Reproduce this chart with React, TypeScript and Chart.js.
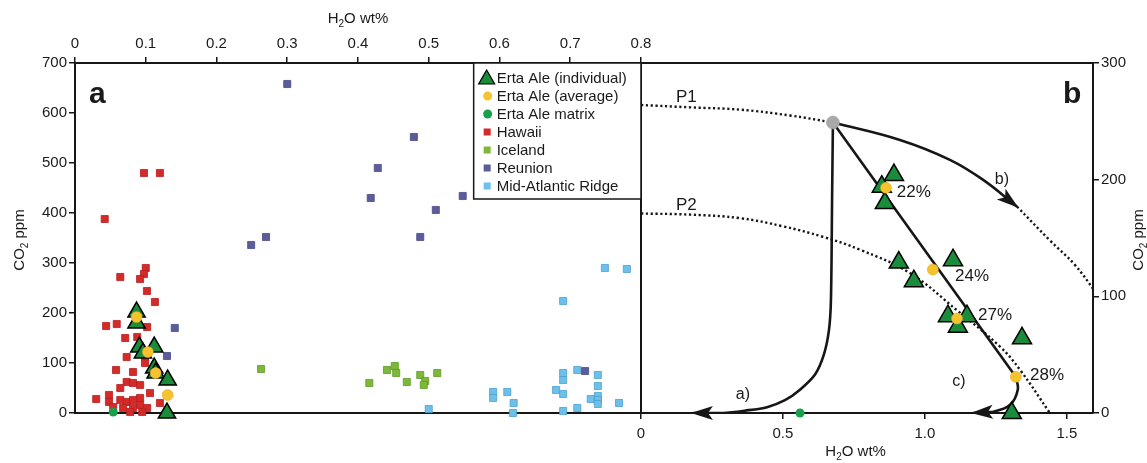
import React, { useEffect, useRef } from 'react';
import { Chart, registerables } from 'chart.js';
Chart.register(...registerables);

const FONT = '"Liberation Sans", Arial, Helvetica, sans-serif';

// ---------- Panel a (top H2O axis 0-0.8, left CO2 axis 0-700) ----------
const topTicks = [0, 0.1, 0.2, 0.3, 0.4, 0.5, 0.6, 0.7, 0.8];
const bottomTicks = [0, 0.5, 1.0, 1.5];

const hawaiiH2O = [0.0975, 0.12, 0.042, 0.064, 0.1, 0.0975, 0.092, 0.1017, 0.113, 0.044, 0.059, 0.102, 0.071, 0.088, 0.073, 0.099, 0.099, 0.058, 0.082, 0.073, 0.082, 0.092, 0.064, 0.106, 0.03, 0.048, 0.048, 0.064, 0.073, 0.082, 0.092, 0.054, 0.068, 0.082, 0.092, 0.102, 0.12, 0.078, 0.095];
const hawaiiCO2 = [480, 480, 388, 272, 290, 278, 268, 244, 222, 174, 178, 172, 150, 152, 112, 112, 100, 86, 82, 62, 60, 56, 50, 40, 28, 36, 22, 26, 22, 26, 30, 12, 10, 10, 16, 10, 20, 2, 2];

const icelandH2O = [0.263, 0.416, 0.441, 0.452, 0.454, 0.469, 0.488, 0.495, 0.493, 0.512];
const icelandCO2 = [88, 60, 86, 94, 80, 62, 76, 64, 56, 80];

const reunionH2O = [0.3, 0.479, 0.428, 0.418, 0.51, 0.548, 0.488, 0.27, 0.249, 0.141, 0.13, 0.721];
const reunionCO2 = [658, 552, 490, 430, 406, 434, 352, 352, 336, 170, 114, 84];

const marH2O = [0.749, 0.78, 0.69, 0.69, 0.69, 0.71, 0.739, 0.739, 0.68, 0.69, 0.739, 0.729, 0.739, 0.739, 0.769, 0.71, 0.69, 0.591, 0.591, 0.611, 0.62, 0.619, 0.5];
const marCO2 = [290, 288, 224, 80, 66, 86, 76, 54, 46, 38, 34, 28, 26, 18, 20, 10, 4, 42, 30, 42, 20, 0, 8];

const ertaIndA_H2O = [0.087, 0.087, 0.091, 0.112, 0.096, 0.112, 0.114, 0.131, 0.13];
const ertaIndA_CO2 = [202, 180, 132, 132, 120, 90, 80, 66, 0];
const ertaAvgA_H2O = [0.087, 0.103, 0.114, 0.131];
const ertaAvgA_CO2 = [192, 122, 80, 36];
const ertaMatA_H2O = [0.054];
const ertaMatA_CO2 = [2];

// ---------- Panel b (bottom H2O axis 0-1.5, right CO2 axis 0-300) ----------
const ertaIndB_H2O = [0.891, 0.848, 0.859, 0.908, 0.961, 1.099, 1.081, 1.148, 1.116, 1.342, 1.306];
const ertaIndB_CO2 = [204, 194, 180, 129, 113, 131, 83, 83, 74, 64, 0];
const ertaAvgB_H2O = [0.863, 1.028, 1.113, 1.32];
const ertaAvgB_CO2 = [193, 123, 81, 31];
const ertaMatB_H2O = [0.56];
const ertaMatB_CO2 = [0];
const startH2O = [0.676];
const startCO2 = [249];

const p1LeftH2O = [0, 0.173, 0.349, 0.525, 0.676];
const p1LeftCO2 = [264, 262, 260, 255, 249];
const p1RightH2O = [1.324, 1.44, 1.528, 1.6];
const p1RightCO2 = [177, 148, 127, 104];
const p2H2O = [0, 0.176, 0.349, 0.5, 0.641, 0.771, 0.947, 1.113, 1.264, 1.335, 1.44];
const p2CO2 = [171, 170, 167, 160, 151, 140, 120, 88, 57, 37, 0];

const pathA_H2O = [0.676, 0.673, 0.669, 0.662, 0.644, 0.613, 0.56, 0.507, 0.444, 0.366, 0.289, 0.183];
const pathA_CO2 = [249, 183, 97, 71, 50, 33, 20, 11, 5, 2, 0, 0];
const pathB_H2O = [0.676, 0.912, 1.088, 1.204, 1.324];
const pathB_CO2 = [249, 234, 217, 200, 177];
const pathCLineH2O = [0.676, 1.32];
const pathCLineCO2 = [249, 31];
const pathCCurveH2O = [1.32, 1.327, 1.3, 1.239, 1.169];
const pathCCurveCO2 = [31, 20, 7, 1, 0];

const noteText = ['P1', 'P2', 'a)', 'b)', 'c)', '22%', '24%', '27%', '28%'];
const noteH2O = [0.123, 0.123, 0.359, 1.271, 1.12, 0.901, 1.106, 1.187, 1.37];
const noteCO2 = [271, 178, 16, 200, 27, 189, 117, 84, 32];

const legendLabels = ['Erta Ale (individual)', 'Erta Ale (average)', 'Erta Ale matrix', 'Hawaii', 'Iceland', 'Reunion', 'Mid-Atlantic Ridge'];

const C = {
  tri: '#1b8c3c',
  avg: '#f6c22e',
  mat: '#19a04c',
  hawaii: '#d42a2a',
  iceland: '#7db83a',
  reunion: '#5c5c9c',
  mar: '#6cc0ea',
  gray: '#a9a9a9',
  ink: '#161616',
};

const XB_MAX = 1.592;
const XB_MIN = -1.9935;
const XA_MAX = 1.4389;

const pts = (xs: number[], ys: number[]) => xs.map((x, i) => ({ x, y: ys[i] }));

function subText(ctx: CanvasRenderingContext2D, x: number, y: number, pre: string, sub: string, post: string, size: number) {
  const big = `${size}px ${FONT}`;
  const small = `${Math.round(size * 0.68)}px ${FONT}`;
  ctx.font = big;
  const w1 = ctx.measureText(pre).width;
  const w3 = ctx.measureText(post).width;
  ctx.font = small;
  const w2 = ctx.measureText(sub).width;
  const sx = x - (w1 + w2 + w3) / 2;
  ctx.textAlign = 'left';
  ctx.textBaseline = 'middle';
  ctx.font = big;
  ctx.fillText(pre, sx, y);
  ctx.font = small;
  ctx.fillText(sub, sx + w1, y + size * 0.32);
  ctx.font = big;
  ctx.fillText(post, sx + w1 + w2, y);
}

const overlay = {
  id: 'overlay',
  afterDatasetsDraw(chart: any) {
    const ctx: CanvasRenderingContext2D = chart.ctx;
    const { top, bottom } = chart.chartArea;
    const xB = chart.scales.xB;
    const yB = chart.scales.yB;
    ctx.save();
    const xd = xB.getPixelForValue(0);
    ctx.strokeStyle = C.ink;
    ctx.lineWidth = 2;
    ctx.beginPath();
    ctx.moveTo(xd, top);
    ctx.lineTo(xd, bottom);
    ctx.stroke();
    chart.data.datasets.forEach((ds: any, i: number) => {
      if (!ds.arrow) return;
      const d = chart.getDatasetMeta(i).data;
      const a = d[d.length - 1];
      const b = d[d.length - 2];
      const ang = Math.atan2(a.y - b.y, a.x - b.x);
      ctx.save();
      ctx.translate(a.x, a.y);
      ctx.rotate(ang);
      ctx.fillStyle = C.ink;
      ctx.beginPath();
      ctx.moveTo(2, 0);
      ctx.lineTo(-20, -7);
      ctx.lineTo(-15, 0);
      ctx.lineTo(-20, 7);
      ctx.closePath();
      ctx.fill();
      ctx.restore();
    });
    ctx.fillStyle = '#1a1a1a';
    ctx.textBaseline = 'middle';
    noteText.forEach((t, i) => {
      const isPath = t.length === 2 && t.endsWith(')');
      ctx.font = `${isPath ? 16 : 17}px ${FONT}`;
      ctx.textAlign = isPath ? 'center' : 'left';
      ctx.fillText(t, xB.getPixelForValue(noteH2O[i]), yB.getPixelForValue(noteCO2[i]));
    });
    ctx.restore();
  },
  afterDraw(chart: any) {
    const ctx: CanvasRenderingContext2D = chart.ctx;
    const ca = chart.chartArea;
    const xA = chart.scales.xA;
    const yA = chart.scales.yA;
    const xB = chart.scales.xB;
    ctx.save();
    ctx.fillStyle = '#1a1a1a';
    const aMid = (xA.getPixelForValue(0) + xA.getPixelForValue(0.8)) / 2;
    subText(ctx, aMid, 19, 'H', '2', 'O wt%', 15);
    subText(ctx, xB.getPixelForValue(0.756), 452, 'H', '2', 'O wt%', 15);
    const midY = (ca.top + ca.bottom) / 2 + 2;
    ctx.save();
    ctx.translate(20, midY);
    ctx.rotate(-Math.PI / 2);
    subText(ctx, 0, 0, 'CO', '2', ' ppm', 15);
    ctx.restore();
    ctx.save();
    ctx.translate(1139, midY);
    ctx.rotate(-Math.PI / 2);
    subText(ctx, 0, 0, 'CO', '2', ' ppm', 15);
    ctx.restore();
    ctx.font = `bold 30px ${FONT}`;
    ctx.textAlign = 'left';
    ctx.textBaseline = 'alphabetic';
    ctx.fillText('a', ca.left + 14, ca.top + 40);
    ctx.fillText('b', ca.right - 30, ca.top + 40);
    const lx = xA.getPixelForValue(0.5635);
    const rx = xA.getPixelForValue(0.8);
    const by = yA.getPixelForValue(428);
    ctx.fillStyle = '#fff';
    ctx.fillRect(lx, ca.top, rx - lx, by - ca.top);
    ctx.strokeStyle = C.ink;
    ctx.lineWidth = 1.5;
    ctx.strokeRect(lx, ca.top, rx - lx, by - ca.top);
    const sx = lx + 13;
    legendLabels.forEach((t, i) => {
      const y = ca.top + 15 + i * 18;
      if (i === 0) {
        ctx.fillStyle = C.tri;
        ctx.strokeStyle = '#000';
        ctx.lineWidth = 1.2;
        ctx.beginPath();
        ctx.moveTo(sx, y - 8);
        ctx.lineTo(sx + 8, y + 6);
        ctx.lineTo(sx - 8, y + 6);
        ctx.closePath();
        ctx.fill();
        ctx.stroke();
      } else if (i < 3) {
        ctx.fillStyle = i === 1 ? C.avg : C.mat;
        ctx.beginPath();
        ctx.arc(sx + 1, y, 4.5, 0, Math.PI * 2);
        ctx.fill();
      } else {
        ctx.fillStyle = [C.hawaii, C.iceland, C.reunion, C.mar][i - 3];
        ctx.fillRect(sx - 3, y - 3.5, 7, 7);
      }
      ctx.fillStyle = '#1a1a1a';
      ctx.font = `15px ${FONT}`;
      ctx.textAlign = 'left';
      ctx.textBaseline = 'middle';
      ctx.fillText(t, sx + 10, y + 1);
    });
    ctx.restore();
  },
};

const sq = (label: string, xs: number[], ys: number[], color: string, edge: string) => ({
  label, data: pts(xs, ys), xAxisID: 'xA', yAxisID: 'yA', clip: false,
  pointStyle: 'rect', pointRadius: 5, backgroundColor: color, borderColor: edge, pointBorderWidth: 0.8,
});

const line = (label: string, xs: number[], ys: number[], dotted: boolean, tension: number, arrow = false) => ({
  label, data: pts(xs, ys), xAxisID: 'xB', yAxisID: 'yB', showLine: true, pointRadius: 0,
  borderColor: C.ink, borderWidth: dotted ? 2.4 : 2.6, borderDash: dotted ? [2.2, 2.6] : [],
  tension, fill: false, arrow,
});

export default function App() {
  const ref = useRef<HTMLCanvasElement>(null);
  useEffect(() => {
    const axisFont = { family: FONT, size: 15 };
    const grid = { drawOnChartArea: false, drawTicks: true, tickLength: 6, color: C.ink, lineWidth: 1.5 };
    const border = { display: true, color: C.ink, width: 2 };
    const chart = new Chart(ref.current!, {
      type: 'scatter',
      data: {
        datasets: [
          { label: 'avgA', data: pts(ertaAvgA_H2O, ertaAvgA_CO2), xAxisID: 'xA', yAxisID: 'yA', clip: false, pointRadius: 5.5, backgroundColor: C.avg, borderColor: '#e0a81c', pointBorderWidth: 0.5 },
          { label: 'avgB', data: pts(ertaAvgB_H2O, ertaAvgB_CO2), xAxisID: 'xB', yAxisID: 'yB', clip: false, pointRadius: 5.5, backgroundColor: C.avg, borderColor: '#e0a81c', pointBorderWidth: 0.5 },
          { label: 'triA', data: pts(ertaIndA_H2O, ertaIndA_CO2), xAxisID: 'xA', yAxisID: 'yA', clip: false, pointStyle: 'triangle', pointRadius: 10, backgroundColor: C.tri, borderColor: '#000', pointBorderWidth: 1.5 },
          { label: 'triB', data: pts(ertaIndB_H2O, ertaIndB_CO2), xAxisID: 'xB', yAxisID: 'yB', clip: false, pointStyle: 'triangle', pointRadius: 11, backgroundColor: C.tri, borderColor: '#000', pointBorderWidth: 1.5 },
          { label: 'matA', data: pts(ertaMatA_H2O, ertaMatA_CO2), xAxisID: 'xA', yAxisID: 'yA', clip: false, pointRadius: 4.5, backgroundColor: C.mat, borderWidth: 0 },
          { label: 'matB', data: pts(ertaMatB_H2O, ertaMatB_CO2), xAxisID: 'xB', yAxisID: 'yB', clip: false, pointRadius: 4.5, backgroundColor: C.mat, borderWidth: 0 },
          { label: 'start', data: pts(startH2O, startCO2), xAxisID: 'xB', yAxisID: 'yB', pointRadius: 6.5, backgroundColor: C.gray, borderColor: '#999', pointBorderWidth: 0.5 },
          sq('Hawaii', hawaiiH2O, hawaiiCO2, C.hawaii, '#b81e1e'),
          sq('Iceland', icelandH2O, icelandCO2, C.iceland, '#5f9a25'),
          sq('Reunion', reunionH2O, reunionCO2, C.reunion, '#4a4a88'),
          sq('MAR', marH2O, marCO2, C.mar, '#4c9fcf'),
          line('pathA', pathA_H2O, pathA_CO2, false, 0.3, true),
          line('pathB', pathB_H2O, pathB_CO2, false, 0.4, true),
          line('pathCLine', pathCLineH2O, pathCLineCO2, false, 0),
          line('pathCCurve', pathCCurveH2O, pathCCurveCO2, false, 0.4, true),
          line('P1a', p1LeftH2O, p1LeftCO2, true, 0.4),
          line('P1b', p1RightH2O, p1RightCO2, true, 0.4),
          line('P2', p2H2O, p2CO2, true, 0.4),
        ] as any,
      },
      options: {
        responsive: false,
        animation: false,
        events: [],
        layout: { padding: 0 },
        plugins: { legend: { display: false }, tooltip: { enabled: false } },
        scales: {
          xA: {
            type: 'linear', position: 'top', min: 0, max: XA_MAX,
            afterBuildTicks: (s: any) => { s.ticks = topTicks.map((v) => ({ value: v })); },
            afterFit: (s: any) => { s.height = 63; },
            ticks: { font: axisFont, color: '#1a1a1a', padding: 4, maxRotation: 0, autoSkip: false, callback: (v: any) => (v === 0 ? '0' : Number(v).toFixed(1)) },
            grid, border,
          },
          xB: {
            type: 'linear', position: 'bottom', min: XB_MIN, max: XB_MAX,
            afterBuildTicks: (s: any) => { s.ticks = bottomTicks.map((v) => ({ value: v })); },
            afterFit: (s: any) => { s.height = 50; },
            ticks: { font: axisFont, color: '#1a1a1a', padding: 6, maxRotation: 0, autoSkip: false, callback: (v: any) => (v === 0 ? '0' : Number(v).toFixed(1)) },
            grid, border,
          },
          yA: {
            type: 'linear', position: 'left', min: 0, max: 700,
            afterFit: (s: any) => { s.width = 75; },
            ticks: { stepSize: 100, font: axisFont, color: '#1a1a1a', padding: 2 },
            grid, border,
          },
          yB: {
            type: 'linear', position: 'right', min: 0, max: 300,
            afterFit: (s: any) => { s.width = 54; },
            ticks: { stepSize: 100, font: axisFont, color: '#1a1a1a', padding: 2 },
            grid, border,
          },
        },
      } as any,
      plugins: [overlay],
    });
    return () => chart.destroy();
  }, []);
  return (
    <div style={{ position: 'absolute', left: 0, top: 0, width: 1147, height: 463, background: '#fff' }}>
      <canvas ref={ref} width={1147} height={463} style={{ display: 'block', width: 1147, height: 463 }} />
    </div>
  );
}
